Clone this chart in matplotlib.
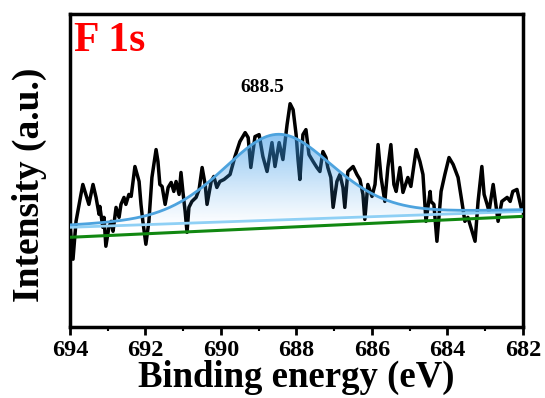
import numpy as np
import matplotlib
matplotlib.use("Agg")
import matplotlib.pyplot as plt
from matplotlib.path import Path
from matplotlib.patches import PathPatch

plt.rcParams["font.family"] = ["Liberation Serif", "DejaVu Serif"]
plt.rcParams["font.weight"] = "bold"

# F 1s high-resolution spectrum (binding energy in eV, intensity in a.u.)
energy = np.array([
    694.00, 693.97, 693.92, 693.84, 693.76, 693.71, 693.66, 693.58, 693.50, 693.39,
    693.31, 693.23, 693.21, 693.13, 693.10, 693.05, 692.97, 692.91, 692.86, 692.78,
    692.70, 692.65, 692.57, 692.52, 692.44, 692.38, 692.28, 692.17, 692.12, 692.07,
    691.99, 691.91, 691.83, 691.72, 691.67, 691.62, 691.56, 691.48, 691.40, 691.32,
    691.25, 691.19, 691.11, 691.06, 691.01, 690.95, 690.90, 690.85, 690.77, 690.66,
    690.58, 690.50, 690.42, 690.37, 690.26, 690.19, 690.11, 690.03, 689.92, 689.76,
    689.63, 689.50, 689.36, 689.28, 689.21, 689.10, 688.99, 688.89, 688.78, 688.65,
    688.57, 688.46, 688.36, 688.25, 688.17, 688.09, 688.01, 687.96, 687.91, 687.83,
    687.75, 687.67, 687.56, 687.46, 687.38, 687.30, 687.22, 687.17, 687.09, 687.03,
    686.93, 686.85, 686.77, 686.72, 686.64, 686.50, 686.40, 686.32, 686.24, 686.19,
    686.11, 686.00, 685.92, 685.84, 685.76, 685.66, 685.58, 685.50, 685.42, 685.36,
    685.26, 685.18, 685.05, 684.97, 684.83, 684.73, 684.65, 684.57, 684.46, 684.44,
    684.36, 684.28, 684.17, 684.07, 683.96, 683.85, 683.72, 683.62, 683.54, 683.46,
    683.35, 683.27, 683.19, 683.09, 683.03, 682.95, 682.90, 682.79, 682.72, 682.66,
    682.56, 682.42, 682.34, 682.27, 682.16, 682.05,
])
intensity = np.array([
    103, 88, 68, 106, 123, 133, 143, 133, 123, 143,
    130, 113, 121, 100, 110, 81, 100, 106, 96, 120,
    110, 123, 130, 123, 133, 131, 161, 146, 123, 106,
    83, 106, 150, 178, 166, 143, 141, 123, 140, 145,
    136, 146, 133, 155, 136, 116, 95, 120, 126, 130,
    138, 160, 143, 123, 146, 151, 140, 146, 148, 153,
    171, 186, 195, 190, 160, 191, 193, 171, 156, 185,
    161, 185, 168, 203, 224, 218, 193, 168, 148, 193,
    198, 173, 166, 160, 156, 176, 170, 160, 150, 120,
    146, 153, 140, 120, 156, 161, 153, 148, 133, 108,
    143, 131, 143, 183, 150, 126, 160, 183, 143, 136,
    160, 135, 150, 141, 178, 166, 153, 106, 136, 126,
    123, 86, 136, 153, 170, 163, 150, 126, 106, 110,
    96, 86, 126, 161, 133, 123, 116, 143, 123, 106,
    126, 130, 126, 136, 138, 120,
])

# Fitted component and backgrounds
peak_center = 688.5
peak_height = 86.0
peak_fwhm = 3.5
peak_eta = 0.3
bg_ends = [100.0, 116.0]      # background under the peak at 694 / 682 eV
linear_ends = [90.0, 111.0]   # linear background at 694 / 682 eV

fig = plt.figure(figsize=(5.45, 3.98), dpi=100)
ax = fig.add_axes([70 / 545, 1 - 327 / 398, 453 / 545, 313 / 398])

x = np.linspace(694, 682, 600)
bg = np.interp(x, [682, 694], bg_ends[::-1])
lin = np.interp(x, [682, 694], linear_ends[::-1])
u = (x - peak_center) / peak_fwhm
gauss = np.exp(-4 * np.log(2) * u ** 2)
lor = 1.0 / (1.0 + 4 * u ** 2)
fit = bg + peak_height * (peak_eta * lor + (1 - peak_eta) * gauss)

ax.plot(energy, intensity, color="black", lw=2.5, solid_joinstyle="round", zorder=2)

# Gradient-filled peak area between the envelope and the background
verts = np.concatenate([np.column_stack([x, fit]), np.column_stack([x[::-1], bg[::-1]])])
patch = PathPatch(Path(verts), facecolor="none", edgecolor="none")
ax.add_patch(patch)
ytop, ybot = fit.max(), bg.min()
ramp = np.linspace(1, 0, 256)[:, None]
rgba = np.zeros((256, 1, 4))
rgba[..., 0] = 0.22
rgba[..., 1] = 0.60
rgba[..., 2] = 0.91
rgba[..., 3] = 0.58 * ramp ** 1.1
img = ax.imshow(rgba, extent=[694, 682, ybot, ytop], aspect="auto", origin="upper",
                interpolation="bilinear", zorder=3)
img.set_clip_path(patch)

ax.plot(x, lin, color="#118811", lw=2.2, zorder=4)
ax.plot(x, bg, color="#8fd0f5", lw=2.0, zorder=4)
ax.plot(x, fit, color="#4da3de", lw=2.0, zorder=5)

ax.text(688.9, 240, "688.5", ha="center", va="center", fontsize=14, fontweight="bold")
ax.text(0.008, 0.975, "F 1s", transform=ax.transAxes, ha="left", va="top",
        color="#ff0000", fontsize=30, fontweight="bold")

ax.set_xlim(694, 682)
ax.set_ylim(0, 314)
ax.set_xticks(np.arange(694, 681, -2))
ax.set_xticks(np.arange(693, 682, -2), minor=True)
ax.set_yticks([])
ax.tick_params(axis="x", which="major", direction="out", length=6, width=2, labelsize=17.5, pad=3.5)
ax.tick_params(axis="x", which="minor", direction="out", length=3, width=1.5)
for lab in ax.get_xticklabels():
    lab.set_fontweight("bold")
for sp in ax.spines.values():
    sp.set_linewidth(2.5)

ax.set_xlabel("Binding energy (eV)", fontsize=26.5, fontweight="bold", labelpad=-1)
ax.set_ylabel("Intensity (a.u.)", fontsize=27, fontweight="bold", va="center")
ax.yaxis.set_label_coords(-0.09, 0.454)

fig.savefig("out.png", dpi=100)
